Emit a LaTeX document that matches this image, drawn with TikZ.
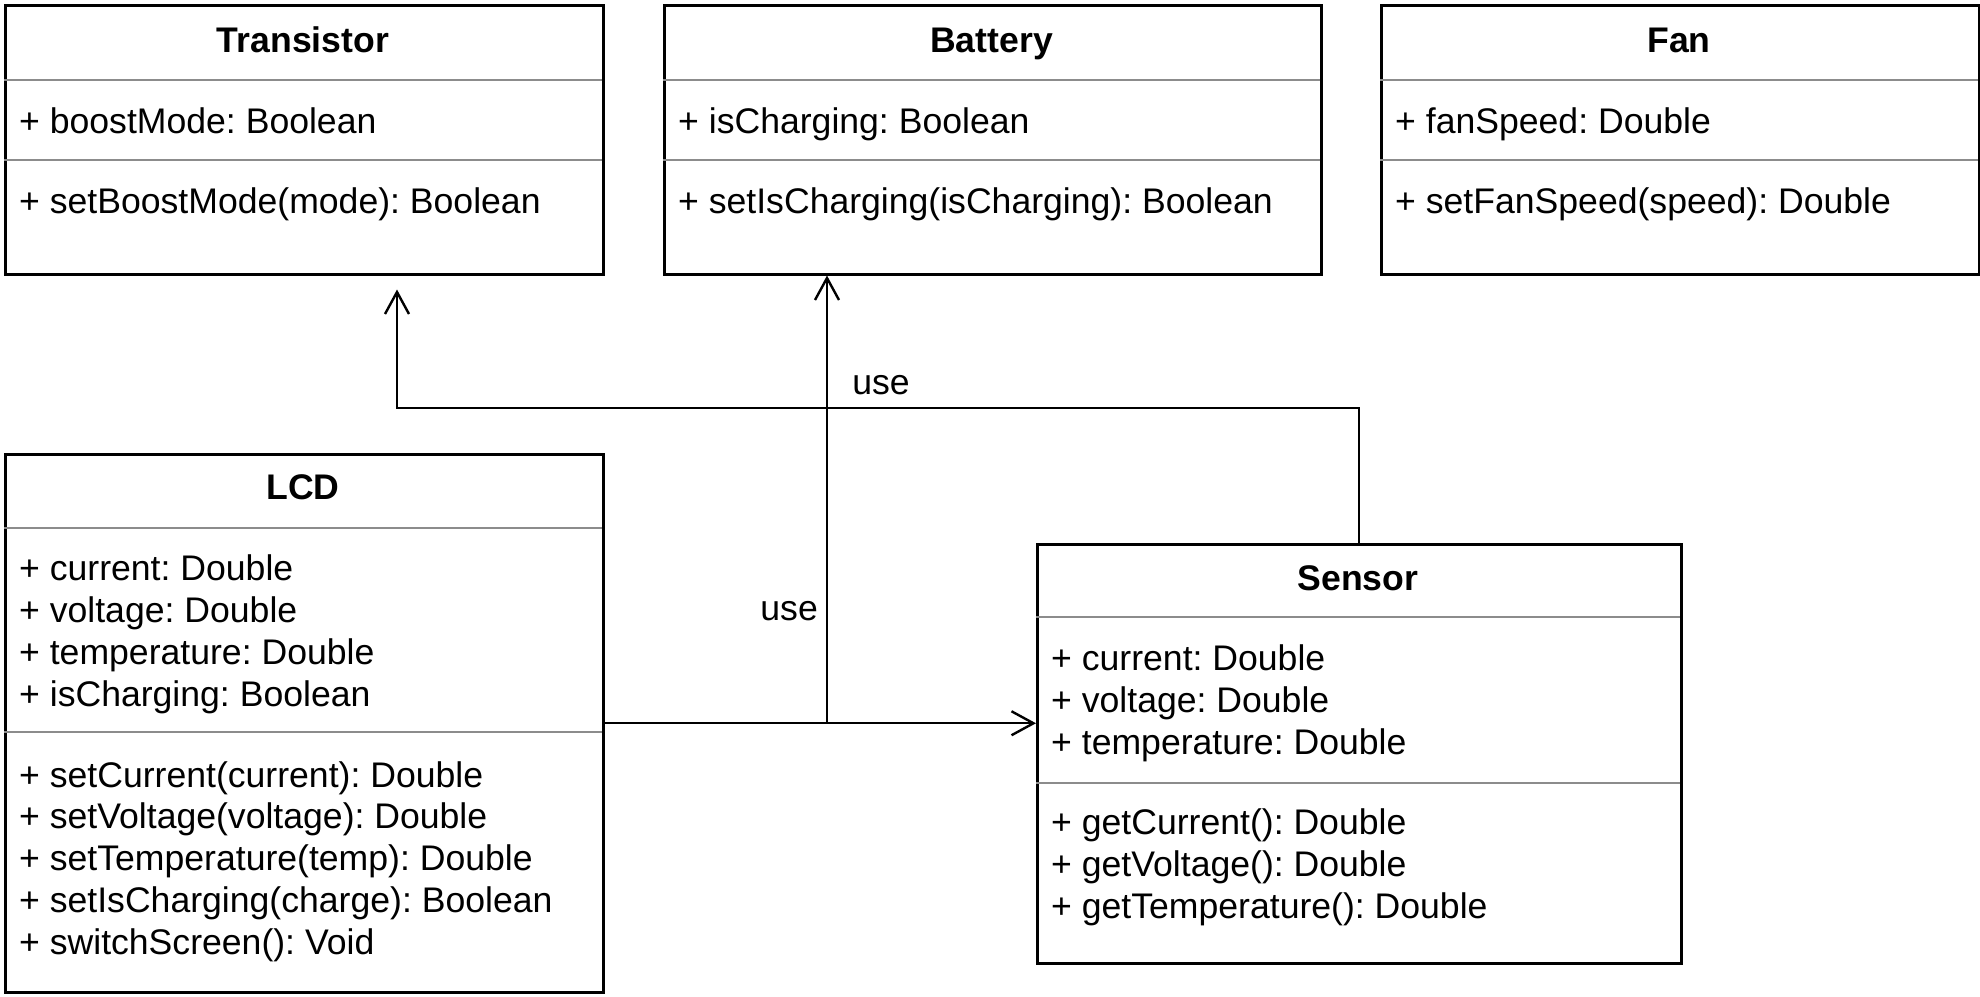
\documentclass[tikz,border=0pt]{standalone}
\usepackage{fontspec}
\setmainfont{Liberation Sans}
\frenchspacing
\usetikzlibrary{arrows.meta}

\tikzset{
  classbox/.style={draw, line width=2.5pt, anchor=north west, inner sep=0pt},
  classtitle/.style={font=\fontsize{35.6}{41.7}\selectfont\bfseries, anchor=base, inner sep=0pt},
  member/.style={font=\fontsize{35.6}{41.7}\selectfont, anchor=base west, align=left, inner sep=0pt},
  compsep/.style={draw=black!45, line width=2.2pt},
  uses/.style={line width=2.4pt, -{Straight Barb[length=22pt,width=24pt]}},
  uselabel/.style={font=\fontsize{35.6}{41.7}\selectfont, inner sep=0pt},
}

\begin{document}
\begin{tikzpicture}[x=1pt,y=-1pt]
    \useasboundingbox (0,0) rectangle (1980,996);

    % Transistor
    \node[classbox, minimum width=598pt, minimum height=269pt] (tr) at (4,4) {};
    \node[classtitle] (trname) at (303,52) {Transistor};
    \draw[compsep] (4,80) -- (602,80);
    \node[member] (trattr) at (19,133) {+ boostMode: Boolean};
    \draw[compsep] (4,160) -- (602,160);
    \node[member] (trops) at (19,213) {+ setBoostMode(mode): Boolean};

    % Battery
    \node[classbox, minimum width=657pt, minimum height=269pt] (bat) at (663,4) {};
    \node[classtitle] (batname) at (991.5,52) {Battery};
    \draw[compsep] (663,80) -- (1320,80);
    \node[member] (batattr) at (678,133) {+ isCharging: Boolean};
    \draw[compsep] (663,160) -- (1320,160);
    \node[member] (batops) at (678,213) {+ setIsCharging(isCharging): Boolean};

    % Fan
    \node[classbox, minimum width=598pt, minimum height=269pt] (fan) at (1380,4) {};
    \node[classtitle] (fanname) at (1679,52) {Fan};
    \draw[compsep] (1380,80) -- (1978,80);
    \node[member] (fanattr) at (1395,133) {+ fanSpeed: Double};
    \draw[compsep] (1380,160) -- (1978,160);
    \node[member] (fanops) at (1395,213) {+ setFanSpeed(speed): Double};

    % LCD (base = last line)
    \node[classbox, minimum width=598pt, minimum height=538pt] (lcd) at (4,453) {};
    \node[classtitle] (lcdname) at (303,499) {LCD};
    \draw[compsep] (4,528) -- (602,528);
    \node[member] (lcdattr) at (19,706) {+ current: Double\\+ voltage: Double\\+ temperature: Double\\+ isCharging: Boolean};
    \draw[compsep] (4,732) -- (602,732);
    \node[member] (lcdops) at (19,954) {+ setCurrent(current): Double\\+ setVoltage(voltage): Double\\+ setTemperature(temp): Double\\+ setIsCharging(charge): Boolean\\+ switchScreen(): Void};

    % Sensor
    \node[classbox, minimum width=644pt, minimum height=419pt] (sen) at (1036,543) {};
    \node[classtitle] (senname) at (1358,590) {Sensor};
    \draw[compsep] (1036,617) -- (1680,617);
    \node[member] (senattr) at (1051,754) {+ current: Double\\+ voltage: Double\\+ temperature: Double};
    \draw[compsep] (1036,783) -- (1680,783);
    \node[member] (senops) at (1051,918) {+ getCurrent(): Double\\+ getVoltage(): Double\\+ getTemperature(): Double};

    % Connectors
    \coordinate (fork) at (827,722);
    \coordinate (bend) at (397,408);
    \draw[uses] (lcd.east) -- (lcd.east -| sen.west);
    \draw[uses] (fork) -- (fork |- bat.south);
    \draw[uses, shorten >=14pt] (sen.north) |- (bend) -- (bend |- tr.south);
    \node[uselabel, anchor=east] (usebat) at (818,611) {use};
    \node[uselabel] (usetr) at (881,385) {use};

\end{tikzpicture}
\end{document}
